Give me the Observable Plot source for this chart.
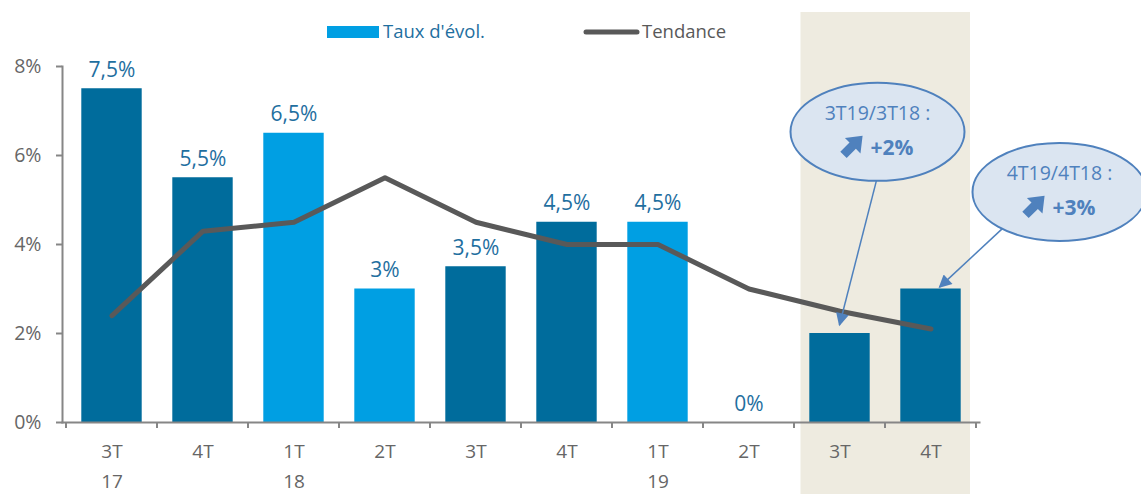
<!DOCTYPE html>
<html><head><meta charset="utf-8">
<script src="https://cdn.jsdelivr.net/npm/d3@7"></script>
<script src="https://cdn.jsdelivr.net/npm/@observablehq/plot@0.6"></script>
<style>body{margin:0;background:#fff;font-family:"Open Sans",sans-serif}#chart{position:relative}</style>
</head><body><div id="chart"></div>
<script>
const categories = ["3T17","4T17","1T18","2T18","3T18","4T18","1T19","2T19","3T19","4T19"];
const tickLabels = ["3T\n17","4T","1T\n18","2T","3T","4T","1T\n19","2T","3T","4T"];
const taux = [7.5,5.5,6.5,3,3.5,4.5,4.5,0,2,3];
const tendance = [2.4,4.3,4.5,5.5,4.5,4.0,4.0,3.0,2.5,2.1];
const barLabels = ["7,5%","5,5%","6,5%","3%","3,5%","4,5%","4,5%","0%","",""];
const yTicks = [0,2,4,6,8];
const highlighted = ["3T19","4T19"];
const calloutTitles = ["3T19/3T18 :","4T19/4T18 :"];
const calloutValues = ["+2%","+3%"];
const calloutCats = ["3T19","4T19"];
const seriesNames = ["Taux d'évol.","Tendance"];

const DARK = "#006c9c", LIGHT = "#009fe3", LINE = "#595959", LBL = "#1f6f9f", AX = "#868686", CALL = "#4f81bd";
const FONT = "'Open Sans', sans-serif";

const data = categories.map((c,i)=>({cat:c, taux:taux[i], tend:tendance[i], label:barLabels[i], q:c.slice(0,2)}));
const labelMap = Object.fromEntries(categories.map((c,i)=>[c,tickLabels[i]]));

const plot = Plot.plot({
  width:1141, height:494, marginLeft:62, marginRight:162, marginTop:66, marginBottom:72,
  style:{fontFamily:FONT, background:"transparent", overflow:"visible"},
  x:{domain:categories, padding:0, label:null, axis:null},
  y:{domain:[0,8], label:null, axis:null},
  marks:[
    Plot.barY(data,{x:"cat", y:"taux", fill:d=>(d.q==="1T"||d.q==="2T")?LIGHT:DARK, insetLeft:15.3, insetRight:15.3}),
    Plot.line(data,{x:"cat", y:"tend", stroke:LINE, strokeWidth:5}),
    Plot.text(data,{x:"cat", y:"taux", text:"label", dy:-12, lineAnchor:"bottom", fill:LBL, fontSize:21}),
    Plot.axisY({ticks:yTicks, tickFormat:d=>d+"%", tickSize:6, tickPadding:15, fontSize:19.5, fill:"#666", stroke:AX, strokeWidth:2}),
    Plot.axisX({tickSize:0, tickPadding:15, tickFormat:c=>labelMap[c], fontSize:19, fill:"#666", lineHeight:1.55}),
    Plot.frame({anchor:"left", stroke:AX, strokeWidth:2}),
    Plot.frame({anchor:"bottom", stroke:AX, strokeWidth:2})
  ]
});
document.getElementById("chart").appendChild(plot);

const svg = d3.select(plot);
const xs = plot.scale("x"), ys = plot.scale("y");
const bw = xs.bandwidth;
const X = c => xs.apply(c), Y = v => ys.apply(v);

// highlight background
const hx1 = X(highlighted[0]) + 6.5, hx2 = X(highlighted[highlighted.length-1]) + bw - 6;
svg.insert("rect", ":scope > g").attr("x",hx1).attr("y",12).attr("width",hx2-hx1).attr("height",494-12).attr("fill","#eeebe0");

// x boundary ticks
const g = svg.append("g").attr("stroke",AX).attr("stroke-width",2);
const bounds = categories.map(c=>X(c)).concat([X(categories[categories.length-1])+bw]);
bounds.forEach(b=>g.append("line").attr("x1",b).attr("x2",b).attr("y1",Y(0)).attr("y2",Y(0)+6));

// legend
const lg = svg.append("g").attr("font-family",FONT).attr("font-size",18.5).attr("text-anchor","start");
lg.append("rect").attr("x",327).attr("y",26).attr("width",52).attr("height",12).attr("fill",LIGHT);
lg.append("text").attr("x",383).attr("y",32).attr("dy","0.35em").attr("fill",LBL).text(seriesNames[0]);
lg.append("line").attr("x1",586).attr("x2",637).attr("y1",32).attr("y2",32).attr("stroke",LINE).attr("stroke-width",5).attr("stroke-linecap","round");
lg.append("text").attr("x",642).attr("y",32).attr("dy","0.35em").attr("fill","#595959").text(seriesNames[1]);

// callouts
const defs = svg.append("defs");
defs.append("marker").attr("id","ah").attr("viewBox","0 0 10 10").attr("refX",9).attr("refY",5)
  .attr("markerWidth",15).attr("markerHeight",13).attr("markerUnits","userSpaceOnUse").attr("orient","auto")
  .append("path").attr("d","M0,0L10,5L0,10z").attr("fill",CALL);

const callSpecs = [
  {cx: X(calloutCats[0])+bw/2+38, cy: Y(6.52), ax1: X(calloutCats[0])+bw/2+37, ay1: Y(5.43), ax2: X(calloutCats[0])+bw/2, ay2: Y(2.18)},
  {cx: X(calloutCats[1])+bw/2+129, cy: Y(5.17), ax1: X(calloutCats[1])+bw/2+74, ay1: Y(4.39), ax2: X(calloutCats[1])+bw/2+9, ay2: Y(3.03)}
];
const cg = svg.append("g");
callSpecs.forEach((s,i)=>{
  cg.append("line").attr("x1",s.ax1).attr("y1",s.ay1).attr("x2",s.ax2).attr("y2",s.ay2)
    .attr("stroke",CALL).attr("stroke-width",1.5).attr("marker-end","url(#ah)");
});
callSpecs.forEach((s,i)=>{
  cg.append("ellipse").attr("cx",s.cx).attr("cy",s.cy).attr("rx",87).attr("ry",49)
    .attr("fill","#dbe5f1").attr("stroke",CALL).attr("stroke-width",2);
  cg.append("text").attr("x",s.cx).attr("y",s.cy-19).attr("dy","0.35em").attr("text-anchor","middle")
    .attr("font-family",FONT).attr("font-size",19.5).attr("fill",CALL).text(calloutTitles[i]);
  cg.append("path").attr("d","M0,-4.5L13,-4.5L13,-11L27,0L13,11L13,4.5L0,4.5Z")
    .attr("transform",`translate(${s.cx-34},${s.cy+23}) rotate(-45)`).attr("fill",CALL);
  cg.append("text").attr("x",s.cx-7).attr("y",s.cy+16).attr("dy","0.35em").attr("text-anchor","start")
    .attr("font-family",FONT).attr("font-size",21).attr("font-weight","bold").attr("fill",CALL).text(calloutValues[i]);
});
</script></body></html>
